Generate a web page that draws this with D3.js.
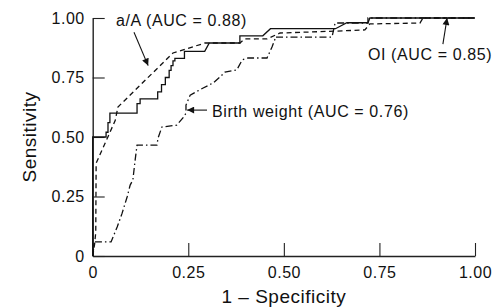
<!DOCTYPE html>
<html>
<head>
<meta charset="utf-8">
<script src="https://cdn.jsdelivr.net/npm/d3@7"></script>
<style>
  body { margin: 0; background: #fff; }
  text { font-family: "Liberation Sans", Arial, sans-serif; fill: #111; }
</style>
</head>
<body>
<svg id="chart" width="497" height="307"></svg>
<script>
// ROC curves: 1 - specificity (fpr) vs sensitivity (tpr)
var oiFpr  = [0, 0, 0.035, 0.035, 0.04, 0.04, 0.045, 0.045, 0.116, 0.116, 0.124, 0.124, 0.17, 0.17, 0.18, 0.18, 0.19, 0.19, 0.2, 0.2, 0.205, 0.205, 0.21, 0.21, 0.215, 0.215, 0.24, 0.24, 0.293, 0.305, 0.385, 0.385, 0.445, 0.465, 0.635, 0.665, 0.72, 0.725, 1];
var oiTpr  = [0, 0.50, 0.50, 0.52, 0.52, 0.56, 0.56, 0.60, 0.60, 0.64, 0.64, 0.66, 0.66, 0.69, 0.69, 0.72, 0.72, 0.75, 0.75, 0.78, 0.78, 0.80, 0.80, 0.82, 0.82, 0.83, 0.83, 0.86, 0.86, 0.895, 0.895, 0.925, 0.925, 0.955, 0.955, 0.98, 0.98, 1, 1];

var aaFpr  = [0, 0.005, 0.008, 0.009, 0.059, 0.066, 0.21, 0.294, 0.385, 0.398, 0.456, 0.49, 0.639, 0.712, 0.725, 0.856, 0.864, 1];
var aaTpr  = [0, 0.05, 0.10, 0.39, 0.57, 0.626, 0.853, 0.895, 0.895, 0.912, 0.912, 0.937, 0.945, 0.95, 0.975, 0.979, 1, 1];

var bwFpr  = [0, 0.003, 0.005, 0.048, 0.064, 0.077, 0.09, 0.098, 0.105, 0.111, 0.116, 0.168, 0.171, 0.181, 0.22, 0.236, 0.244, 0.244, 0.255, 0.289, 0.315, 0.333, 0.346, 0.377, 0.391, 0.406, 0.456, 0.469, 0.477, 0.477, 0.626, 0.634, 0.72, 0.72, 1];
var bwTpr  = [0, 0.04, 0.059, 0.059, 0.122, 0.18, 0.248, 0.298, 0.319, 0.403, 0.466, 0.466, 0.496, 0.542, 0.55, 0.58, 0.60, 0.634, 0.676, 0.706, 0.727, 0.752, 0.773, 0.782, 0.824, 0.832, 0.832, 0.878, 0.912, 0.92, 0.92, 0.979, 0.979, 1, 1];

var tickValues = [0, 0.25, 0.5, 0.75, 1];
var tickLabels = ["0", "0.25", "0.50", "0.75", "1.00"];

var seriesNames = ["a/A", "OI", "Birth weight"];
var seriesAUC   = ["0.88", "0.85", "0.76"];

drawChart();

function drawChart() {
    var svg = d3.select('#chart');
    var x = d3.scaleLinear().domain([0, 1]).range([92.7, 475]);
    var y = d3.scaleLinear().domain([0, 1]).range([256, 18]);

    svg.append('defs').append('marker')
        .attr('id', 'arrow')
        .attr('viewBox', '0 0 10 10')
        .attr('refX', 10).attr('refY', 5)
        .attr('markerWidth', 9).attr('markerHeight', 7)
        .attr('markerUnits', 'userSpaceOnUse')
        .attr('orient', 'auto')
        .append('path').attr('d', 'M0,0L10,5L0,10Z').attr('fill', '#111');

    var xAxis = d3.axisBottom(x).tickValues(tickValues)
        .tickFormat(function(d, i) { return tickLabels[i]; })
        .tickSizeInner(-13).tickSizeOuter(0).tickPadding(11);
    var yAxis = d3.axisLeft(y).tickValues(tickValues)
        .tickFormat(function(d, i) { return tickLabels[i]; })
        .tickSizeInner(-12).tickSizeOuter(0).tickPadding(8);

    var gx = svg.append('g').attr('transform', 'translate(0,256)').call(xAxis);
    var gy = svg.append('g').attr('transform', 'translate(92.7,0)').call(yAxis);
    [gx, gy].forEach(function(g) {
        g.select('.domain').attr('stroke', '#222').attr('stroke-width', 1.4);
        g.selectAll('.tick line').attr('stroke', '#222').attr('stroke-width', 1.1);
        g.selectAll('.tick text')
            .style('font-family', '"Liberation Sans", Arial, sans-serif')
            .style('font-size', '16px').style('letter-spacing', '0.5px').attr('fill', '#111');
    });

    var line = d3.line().x(function(d) { return x(d[0]); }).y(function(d) { return y(d[1]); });
    var curves = [
        { fpr: oiFpr, tpr: oiTpr, dash: null },
        { fpr: aaFpr, tpr: aaTpr, dash: '5,3.5' },
        { fpr: bwFpr, tpr: bwTpr, dash: '7,3,1.5,3' }
    ];
    curves.forEach(function(c) {
        var pts = c.fpr.map(function(f, i) { return [f, c.tpr[i]]; });
        svg.append('path').datum(pts)
            .attr('d', line)
            .attr('fill', 'none')
            .attr('stroke', '#111')
            .attr('stroke-width', 1.3)
            .attr('stroke-dasharray', c.dash);
    });

    // labels with arrows
    var notes = [
        { text: seriesNames[0], auc: seriesAUC[0], tx: 0.061, ty: 0.966, from: [0.108, 0.94], to: [0.145, 0.80] },
        { text: seriesNames[1], auc: seriesAUC[1], tx: 0.72, ty: 0.824, from: [0.916, 0.89], to: [0.927, 1.0] },
        { text: seriesNames[2], auc: seriesAUC[2], tx: 0.312, ty: 0.584, from: [0.299, 0.613], to: [0.247, 0.613] }
    ];
    notes.forEach(function(n) {
        svg.append('text')
            .attr('x', x(n.tx)).attr('y', y(n.ty))
            .style('font-size', '16px').style('letter-spacing', '0.6px')
            .text(n.text + ' (AUC = ' + n.auc + ')');
        svg.append('line')
            .attr('x1', x(n.from[0])).attr('y1', y(n.from[1]))
            .attr('x2', x(n.to[0])).attr('y2', y(n.to[1]))
            .attr('stroke', '#111').attr('stroke-width', 1.1)
            .attr('marker-end', 'url(#arrow)');
    });

    svg.append('text')
        .attr('x', (x(0) + x(1)) / 2).attr('y', 303)
        .attr('text-anchor', 'middle')
        .style('font-size', '19px').style('letter-spacing', '0.5px')
        .text('1 \u2013 Specificity');

    svg.append('text')
        .attr('transform', 'translate(36,137) rotate(-90)')
        .attr('text-anchor', 'middle')
        .style('font-size', '19px').style('letter-spacing', '0.5px')
        .text('Sensitivity');
}
</script>
</body>
</html>
